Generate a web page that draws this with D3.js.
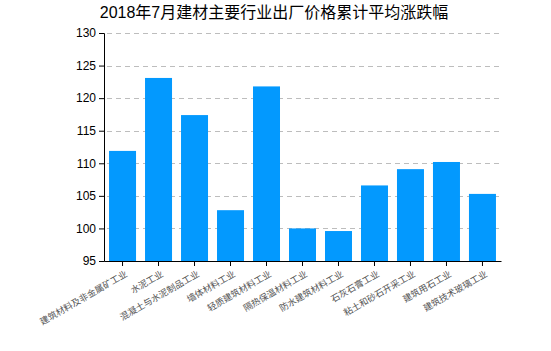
<!DOCTYPE html>
<html>
<head>
<meta charset="utf-8">
<script src="https://cdn.jsdelivr.net/npm/d3@7"></script>
<style>
  body { margin: 0; background: #fff; }
  text { font-family: "Liberation Sans", "Noto Sans CJK SC", sans-serif; }
</style>
</head>
<body>
<div id="chart"></div>
<script>
const title = "2018年7月建材主要行业出厂价格累计平均涨跌幅";
const industries = ["建筑材料及非金属矿工业", "水泥工业", "混凝土与水泥制品工业", "墙体材料工业",
  "轻质建筑材料工业", "隔热保温材料工业", "防水建筑材料工业", "石灰石膏工业",
  "粘土和砂石开采工业", "建筑用石工业", "建筑技术玻璃工业"];
const values = [111.9, 123.1, 117.4, 102.8, 121.8, 100.0, 99.6, 106.6, 109.1, 110.2, 105.3];
const yTicks = [95, 100, 105, 110, 115, 120, 125, 130];

(function bar_chart() {
  let width = 551,
    height = 351,
    margin = ({ top: 33, right: 50, bottom: 90, left: 104 });

  const svg = d3.select("#chart")
    .append("svg")
    .attr("width", width)
    .attr("height", height);

  let x = d3.scaleBand()
    .domain(industries)
    .range([margin.left, width - margin.right])
    .paddingInner(0.25)
    .paddingOuter(0.14);

  let y = d3.scaleLinear()
    .domain([95, 130])
    .range([height - margin.bottom, margin.top]);

  // dashed grid
  svg.append("g")
    .selectAll("line")
    .data(yTicks.slice(1))
    .join("line")
    .attr("x1", margin.left + 3)
    .attr("x2", width - margin.right)
    .attr("y1", d => Math.round(y(d)) + 0.5)
    .attr("y2", d => Math.round(y(d)) + 0.5)
    .attr("stroke", "#bdbdbd")
    .attr("stroke-width", 1.2)
    .attr("stroke-dasharray", "5,4");

  svg.append("g")
    .selectAll("rect")
    .data(values)
    .join("rect")
    .attr("x", (d, i) => x(industries[i]))
    .attr("width", x.bandwidth())
    .attr("y", d => y(d))
    .attr("height", d => y(95) - y(d))
    .attr("fill", "#0399fe");

  let yAxis = svg.append("g")
    .attr("transform", `translate(${margin.left},0)`)
    .call(d3.axisLeft(y).tickValues(yTicks).tickSize(5).tickPadding(3));
  yAxis.selectAll("text").attr("font-size", 12).attr("fill", "#000").style("font-family", "Liberation Sans");

  let xAxis = svg.append("g")
    .attr("transform", `translate(0,${height - margin.bottom})`)
    .call(d3.axisBottom(x).tickSize(5).tickSizeOuter(0));
  xAxis.selectAll("text")
    .attr("font-size", 9)
    .attr("fill", "#555")
    .attr("text-anchor", "end")
    .attr("y", 0)
    .attr("dy", "0.35em")
    .attr("transform", "translate(4,12) rotate(-30)")
    .style("font-family", "Noto Sans CJK SC");

  svg.selectAll(".domain").attr("stroke", "#000");
  svg.selectAll(".tick line").attr("stroke", "#000");

  svg.append("text")
    .attr("x", 274)
    .attr("y", 18)
    .attr("text-anchor", "middle")
    .attr("font-size", 16)
    .attr("fill", "#000")
    .text(title);
})();
</script>
</body>
</html>
